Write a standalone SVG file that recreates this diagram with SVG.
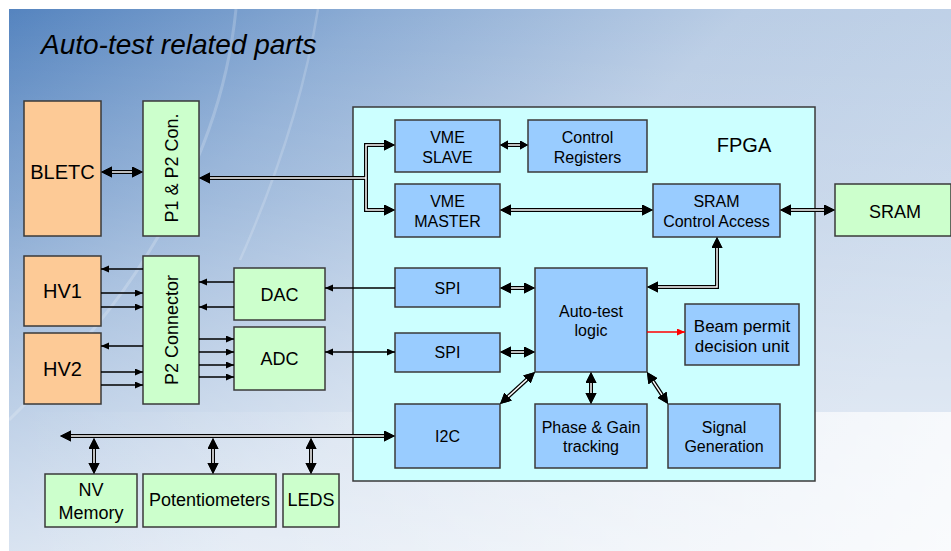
<svg xmlns="http://www.w3.org/2000/svg" width="951" height="551" viewBox="0 0 951 551">
<defs>
<linearGradient id="bg" x1="0" y1="0" x2="1" y2="0.55">
<stop offset="0" stop-color="#5584bf"/>
<stop offset="0.3" stop-color="#8dadd5"/>
<stop offset="0.6" stop-color="#bacde5"/>
<stop offset="1" stop-color="#c6d6ea"/>
</linearGradient>
<linearGradient id="fade" x1="0" y1="0" x2="0" y2="1">
<stop offset="0" stop-color="#ffffff" stop-opacity="0"/>
<stop offset="0.35" stop-color="#ffffff" stop-opacity="0.15"/>
<stop offset="1" stop-color="#ffffff" stop-opacity="0.6"/>
</linearGradient>
<linearGradient id="floor" x1="0" y1="0" x2="1" y2="0">
<stop offset="0" stop-color="#ffffff" stop-opacity="0"/>
<stop offset="0.3" stop-color="#ffffff" stop-opacity="0.12"/>
<stop offset="1" stop-color="#ffffff" stop-opacity="0.75"/>
</linearGradient>
<marker id="ad" markerUnits="userSpaceOnUse" markerWidth="12" markerHeight="12" refX="6" refY="5.5" orient="auto-start-reverse"><path d="M0,0 L11,5.5 L0,11 z" fill="#000"/></marker>
<marker id="as" markerUnits="userSpaceOnUse" markerWidth="10" markerHeight="10" refX="4" refY="4.5" orient="auto-start-reverse"><path d="M0,0 L8,4.5 L0,9 z" fill="#000"/></marker>
<marker id="at" markerUnits="userSpaceOnUse" markerWidth="9" markerHeight="8" refX="8" refY="3.5" orient="auto-start-reverse"><path d="M0,0 L8,3.5 L0,7 z" fill="#000"/></marker>
<marker id="ar" markerUnits="userSpaceOnUse" markerWidth="9" markerHeight="8" refX="8" refY="3.5" orient="auto-start-reverse"><path d="M0,0 L8,3.5 L0,7 z" fill="#ff0000"/></marker>
<style>
text{font-family:"Liberation Sans",Arial,sans-serif;fill:#000;text-anchor:middle}
.t16{font-size:16px}
.t18{font-size:18px}
.t20{font-size:20px}
.box{stroke:#3a3a3a;stroke-width:1.5}
.org{fill:#fdca96}
.grn{fill:#ccffcc}
.blu{fill:#99ccff}
.fpga{fill:#ccffff}
.o{fill:none;stroke:#000;stroke-width:4}
.i{fill:none;stroke:#ffffff;stroke-width:1.5}
.th{fill:none;stroke:#000;stroke-width:1.3}
.red{fill:none;stroke:#ff0000;stroke-width:1.3}
</style>
</defs>
<rect x="0" y="0" width="951" height="551" fill="#ffffff"/>
<g id="background">
<rect x="9" y="9" width="942" height="542" fill="url(#bg)"/>
<rect x="9" y="9" width="942" height="542" fill="url(#fade)"/>
<rect x="9" y="412" width="942" height="139" fill="url(#floor)"/>
<path d="M236,9 C228,90 200,170 150,250 C120,300 80,350 9,420" fill="none" stroke="#ffffff" stroke-opacity="0.2" stroke-width="3"/>
<path d="M318,9 C305,90 280,170 240,260" fill="none" stroke="#ffffff" stroke-opacity="0.18" stroke-width="2.5"/>
</g>
<text x="41" y="54" style="font-family:'Liberation Sans',Arial,sans-serif;font-size:28px;font-style:italic;text-anchor:start">Auto-test related parts</text>

<g id="fpga"><rect class="box fpga" x="353" y="107" width="462" height="374"/><text class="t20" x="744" y="152">FPGA</text></g>
<g id="bletc"><rect class="box org" x="24" y="101" width="77" height="135"/><text class="t20" x="62.5" y="179">BLETC</text></g>
<g id="p1p2"><rect class="box grn" x="143" y="101" width="56" height="135"/><text class="t18" transform="translate(177.5,168) rotate(-90)">P1 &amp; P2 Con.</text></g>
<g id="hv1"><rect class="box org" x="24" y="256" width="77" height="70"/><text class="t20" x="62.5" y="298">HV1</text></g>
<g id="hv2"><rect class="box org" x="24" y="333" width="77" height="71"/><text class="t20" x="62.5" y="376">HV2</text></g>
<g id="p2"><rect class="box grn" x="143" y="256" width="56" height="148"/><text class="t18" transform="translate(177.5,330) rotate(-90)">P2 Connector</text></g>
<g id="dac"><rect class="box grn" x="234" y="268" width="91" height="52"/><text class="t18" x="279.5" y="301">DAC</text></g>
<g id="adc"><rect class="box grn" x="234" y="327" width="91" height="63"/><text class="t18" x="279.5" y="365">ADC</text></g>
<g id="nvmem"><rect class="box grn" x="45" y="474" width="92" height="53"/><text class="t18" x="91" y="496">NV</text><text class="t18" x="91" y="519">Memory</text></g>
<g id="pots"><rect class="box grn" x="143" y="474" width="133" height="53"/><text class="t18" x="209.5" y="506">Potentiometers</text></g>
<g id="leds"><rect class="box grn" x="283" y="474" width="56" height="53"/><text class="t18" x="311" y="506">LEDS</text></g>
<g id="sram"><rect class="box grn" x="835" y="184" width="116" height="52"/><text class="t18" x="895" y="218">SRAM</text></g>
<g id="vmeslave"><rect class="box blu" x="395" y="120" width="105" height="52"/><text class="t16" x="447.5" y="143">VME</text><text class="t16" x="447.5" y="162.5">SLAVE</text></g>
<g id="ctrlregs"><rect class="box blu" x="528" y="120" width="119" height="52"/><text class="t16" x="587.5" y="143">Control</text><text class="t16" x="587.5" y="162.5">Registers</text></g>
<g id="vmemaster"><rect class="box blu" x="395" y="184" width="105" height="53"/><text class="t16" x="447.5" y="207">VME</text><text class="t16" x="447.5" y="227">MASTER</text></g>
<g id="sramca"><rect class="box blu" x="653" y="184" width="127" height="53"/><text class="t16" x="716.5" y="207">SRAM</text><text class="t16" x="716.5" y="227">Control Access</text></g>
<g id="spi1"><rect class="box blu" x="395" y="268" width="105" height="39"/><text class="t16" x="447.5" y="293.5">SPI</text></g>
<g id="spi2"><rect class="box blu" x="395" y="333" width="105" height="39"/><text class="t16" x="447.5" y="358">SPI</text></g>
<g id="autotest"><rect class="box blu" x="535" y="268" width="112" height="104"/><text class="t16" x="591" y="316.5">Auto-test</text><text class="t16" x="591" y="336">logic</text></g>
<g id="beam"><rect class="box blu" x="685" y="304" width="114" height="61"/><text class="t16" x="742" y="331.5" style="font-size:17px">Beam permit</text><text class="t16" x="742" y="351.5" style="font-size:17px">decision unit</text></g>
<g id="i2c"><rect class="box blu" x="395" y="404" width="105" height="64"/><text class="t16" x="447.5" y="441.5">I2C</text></g>
<g id="phase"><rect class="box blu" x="535" y="404" width="112" height="64"/><text class="t16" x="591" y="432.5">Phase &amp; Gain</text><text class="t16" x="591" y="452">tracking</text></g>
<g id="siggen"><rect class="box blu" x="668" y="404" width="112" height="64"/><text class="t16" x="724" y="432.5">Signal</text><text class="t16" x="724" y="452">Generation</text></g>

<g id="connectors">
<path class="o" d="M106,172 H138" marker-start="url(#ad)" marker-end="url(#ad)"/>
<path class="o" d="M366,178 H204" marker-end="url(#ad)"/>
<path class="o" d="M390,145 H366 V210 H390" marker-start="url(#ad)" marker-end="url(#ad)"/>
<path class="o" d="M504,145 H524" marker-start="url(#as)" marker-end="url(#as)"/>
<path class="o" d="M505,210 H648" marker-start="url(#ad)" marker-end="url(#ad)"/>
<path class="o" d="M785,210 H830" marker-start="url(#ad)" marker-end="url(#ad)"/>
<path class="o" d="M717,242 V287 H652" marker-start="url(#ad)" marker-end="url(#ad)"/>
<path class="o" d="M505,288 H530" marker-start="url(#ad)" marker-end="url(#ad)"/>
<path class="o" d="M505,352 H530" marker-start="url(#ad)" marker-end="url(#ad)"/>
<path class="o" d="M503.7,400.6 L531.3,375.4" marker-start="url(#ad)" marker-end="url(#ad)"/>
<path class="o" d="M591,377 V399" marker-start="url(#ad)" marker-end="url(#ad)"/>
<path class="o" d="M649.7,376.2 L665.3,399.8" marker-start="url(#ad)" marker-end="url(#ad)"/>
<path class="o" d="M65,436 H390" marker-start="url(#ad)" marker-end="url(#ad)"/>
<path class="o" d="M94,443 V469" marker-start="url(#ad)" marker-end="url(#ad)"/>
<path class="o" d="M213,443 V469" marker-start="url(#ad)" marker-end="url(#ad)"/>
<path class="o" d="M311,443 V469" marker-start="url(#ad)" marker-end="url(#ad)"/>
<path class="i" d="M106,172 H138" marker-start="url(#ad)" marker-end="url(#ad)"/>
<path class="i" d="M366,178 H204" marker-end="url(#ad)"/>
<path class="i" d="M390,145 H366 V210 H390" marker-start="url(#ad)" marker-end="url(#ad)"/>
<path class="i" d="M504,145 H524" marker-start="url(#as)" marker-end="url(#as)"/>
<path class="i" d="M505,210 H648" marker-start="url(#ad)" marker-end="url(#ad)"/>
<path class="i" d="M785,210 H830" marker-start="url(#ad)" marker-end="url(#ad)"/>
<path class="i" d="M717,242 V287 H652" marker-start="url(#ad)" marker-end="url(#ad)"/>
<path class="i" d="M505,288 H530" marker-start="url(#ad)" marker-end="url(#ad)"/>
<path class="i" d="M505,352 H530" marker-start="url(#ad)" marker-end="url(#ad)"/>
<path class="i" d="M503.7,400.6 L531.3,375.4" marker-start="url(#ad)" marker-end="url(#ad)"/>
<path class="i" d="M591,377 V399" marker-start="url(#ad)" marker-end="url(#ad)"/>
<path class="i" d="M649.7,376.2 L665.3,399.8" marker-start="url(#ad)" marker-end="url(#ad)"/>
<path class="i" d="M65,436 H390" marker-start="url(#ad)" marker-end="url(#ad)"/>
<path class="i" d="M94,443 V469" marker-start="url(#ad)" marker-end="url(#ad)"/>
<path class="i" d="M213,443 V469" marker-start="url(#ad)" marker-end="url(#ad)"/>
<path class="i" d="M311,443 V469" marker-start="url(#ad)" marker-end="url(#ad)"/>
<path class="th" d="M143,269 H101" marker-end="url(#at)"/>
<path class="th" d="M101,293 H143" marker-end="url(#at)"/>
<path class="th" d="M101,307 H143" marker-end="url(#at)"/>
<path class="th" d="M143,346 H101" marker-end="url(#at)"/>
<path class="th" d="M101,372 H143" marker-end="url(#at)"/>
<path class="th" d="M101,385 H143" marker-end="url(#at)"/>
<path class="th" d="M234,282 H199" marker-end="url(#at)"/>
<path class="th" d="M234,307 H199" marker-end="url(#at)"/>
<path class="th" d="M199,339 H234" marker-end="url(#at)"/>
<path class="th" d="M199,352 H234" marker-end="url(#at)"/>
<path class="th" d="M199,365 H234" marker-end="url(#at)"/>
<path class="th" d="M199,377 H234" marker-end="url(#at)"/>
<path class="th" d="M395,288 H325" marker-end="url(#at)"/>
<path class="th" d="M325,352 H395" marker-start="url(#at)" marker-end="url(#at)"/>
<path class="red" d="M647,332 H685" marker-end="url(#ar)"/>
</g>
</svg>
